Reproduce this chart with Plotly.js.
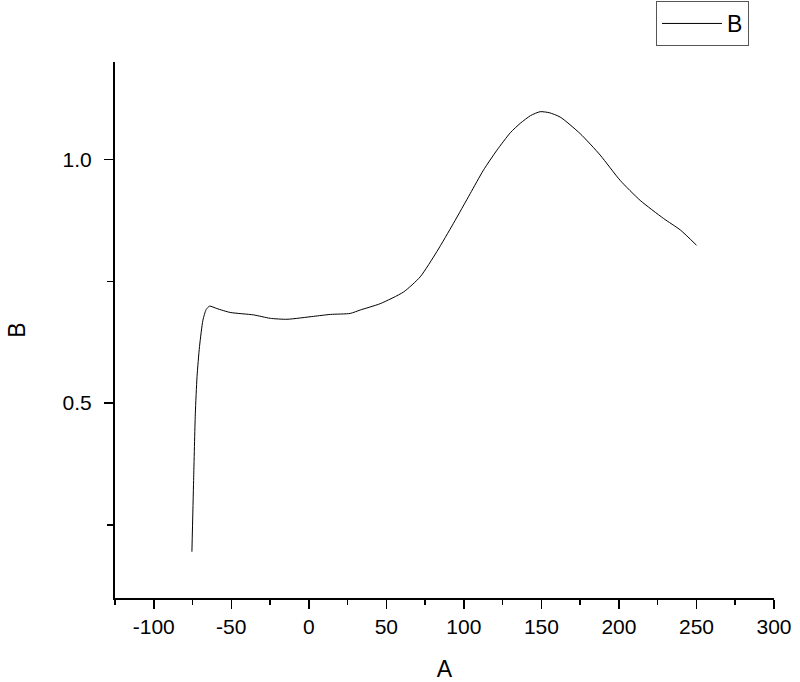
<!DOCTYPE html>
<html>
<head>
<meta charset="utf-8">
<script src="https://cdn.plot.ly/plotly-3.0.1.min.js"></script>
<style>
html, body { margin: 0; padding: 0; background: #fff; }
#chart { width: 800px; height: 682px; }
</style>
</head>
<body>
<div id="chart"></div>
<script>
// Data
const seriesName = "B";
const xValues = [-75.4, -74.3, -73.2, -72.1, -70.5, -68.3, -66.2, -64.0, -59.3, -50.7,
  -35.7, -24.9, -14.1, 3.0, 14.0, 26.7, 33.1, 46.0, 61.1, 71.8,
  82.6, 93.3, 104.1, 112.6, 121.3, 130.0, 136.3, 143.0, 149.2, 155.0,
  162.1, 175.0, 187.9, 200.8, 213.7, 228.7, 239.7, 250.0];
const yValues = [0.195, 0.341, 0.478, 0.554, 0.616, 0.670, 0.692, 0.699, 0.694, 0.686,
  0.681, 0.674, 0.672, 0.678, 0.682, 0.684, 0.691, 0.704, 0.728, 0.759,
  0.811, 0.869, 0.930, 0.978, 1.019, 1.055, 1.074, 1.090, 1.098, 1.096,
  1.087, 1.053, 1.009, 0.957, 0.916, 0.879, 0.855, 0.824];
const xTickVals = [-100, -50, 0, 50, 100, 150, 200, 250, 300];
const yTickVals = [0.5, 1.0];
const xTitle = "A";
const yTitle = "B";

const fontFamily = "Liberation Sans, Arial, sans-serif";

const trace = {
  x: xValues,
  y: yValues,
  type: "scatter",
  mode: "lines",
  name: seriesName,
  line: { color: "#000000", width: 1, shape: "spline", smoothing: 0.6 }
};

const layout = {
  width: 800,
  height: 682,
  margin: { l: 115, r: 26, t: 62, b: 84, autoexpand: false },
  paper_bgcolor: "#ffffff",
  plot_bgcolor: "#ffffff",
  font: { family: fontFamily, color: "#000000" },
  showlegend: true,
  legend: {
    xref: "container", yref: "container",
    x: 656 / 800, y: 1 - 1 / 682, xanchor: "left", yanchor: "top",
    bordercolor: "#555555", borderwidth: 1, bgcolor: "#ffffff",
    font: { family: fontFamily, size: 23, color: "#000000" },
    itemwidth: 60
  },
  xaxis: {
    range: [-125, 300],
    tickmode: "array",
    tickvals: xTickVals,
    ticktext: xTickVals.map(v => String(v)),
    ticks: "outside", ticklen: 9, tickwidth: 1.5, tickcolor: "#000",
    minor: { dtick: 25, ticks: "outside", ticklen: 5, tickwidth: 1.5, tickcolor: "#000", tick0: 0 },
    showline: true, linecolor: "#000", linewidth: 2,
    showgrid: false, zeroline: false, mirror: false,
    tickfont: { family: fontFamily, size: 21, color: "#000" },
    title: { text: xTitle, font: { family: fontFamily, size: 23, color: "#000" } }
  },
  yaxis: {
    range: [0.1, 1.2],
    automargin: true,
    tickmode: "array",
    tickvals: yTickVals,
    ticktext: yTickVals.map(v => v.toFixed(1)),
    ticks: "outside", ticklen: 9, tickwidth: 1.5, tickcolor: "#000",
    minor: { dtick: 0.25, tick0: 0, ticks: "outside", ticklen: 6, tickwidth: 1.5, tickcolor: "#000" },
    showline: true, linecolor: "#000", linewidth: 2,
    showgrid: false, zeroline: false, mirror: false,
    ticklabelstandoff: 8,
    tickfont: { family: fontFamily, size: 21, color: "#000" },
    title: { text: yTitle, font: { family: fontFamily, size: 23, color: "#000" }, standoff: 31 }
  }
};

Plotly.newPlot("chart", [trace], layout, { displayModeBar: false, staticPlot: true });
</script>
</body>
</html>
